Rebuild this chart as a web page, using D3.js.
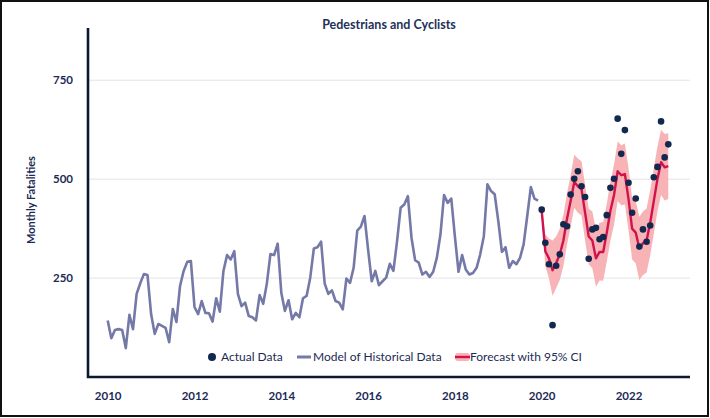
<!DOCTYPE html>
<html>
<head>
<meta charset="utf-8">
<script src="https://cdn.jsdelivr.net/npm/d3@7"></script>
<style>
  body { margin: 0; background: #fff; }
  svg { display: block; }
</style>
</head>
<body>
<svg id="chart" width="710" height="418"></svg>
<script>
// monthly values, Jan 2010 .. Dec 2019
const modelHistorical = [
  143, 98, 119, 121, 119, 73, 157, 121, 210, 237, 260, 258,
  159, 109, 134, 129, 124, 88, 172, 139, 230, 268, 291, 293,
  177, 159, 192, 162, 161, 140, 199, 165, 268, 308, 297, 318,
  210, 179, 188, 154, 151, 143, 207, 185, 236, 311, 308, 337,
  213, 167, 194, 146, 162, 151, 199, 205, 251, 325, 328, 342,
  236, 210, 219, 192, 188, 171, 249, 238, 276, 370, 380, 407,
  322, 242, 268, 232, 242, 251, 286, 268, 343, 428, 436, 457,
  352, 295, 289, 259, 266, 253, 266, 301, 360, 460, 440, 451,
  355, 266, 308, 272, 259, 263, 276, 310, 356, 487, 470, 462,
  394, 316, 328, 276, 293, 285, 301, 335, 407, 480, 451, 446
];

// monthly values, Jan 2020 .. Dec 2022
const actualData = [
  423, 339, 285, 131, 281, 310, 386, 381, 461, 501, 520, 482,
  455, 299, 373, 377, 348, 354, 409, 478, 501, 653, 564, 624,
  491, 415, 451, 330, 373, 342, 383, 505, 531, 646, 555, 588
];
const forecast = [
  420, 318, 300, 270, 288, 310, 345, 400, 445, 493, 482, 475,
  415, 355, 345, 300, 316, 316, 365, 420, 460, 520, 510, 513,
  450, 375, 365, 325, 338, 345, 390, 445, 500, 543, 530, 533
];
const forecastLower = [
  405, 280, 250, 205, 225, 245, 280, 335, 380, 428, 415, 408,
  345, 285, 275, 228, 244, 243, 292, 345, 385, 445, 434, 436,
  372, 297, 287, 245, 258, 264, 308, 362, 418, 460, 446, 450
];
const forecastUpper = [
  435, 360, 350, 345, 355, 375, 410, 465, 510, 562, 552, 545,
  485, 425, 418, 372, 390, 392, 438, 495, 537, 595, 586, 590,
  528, 453, 445, 405, 418, 426, 472, 528, 582, 625, 614, 616
];

const yTicks = [250, 500, 750];
const xTicks = [2010, 2012, 2014, 2016, 2018, 2020, 2022];
const legendItems = ["Actual Data", "Model of Historical Data", "Forecast with 95% CI"];

const navy = "#1c2b55";
const dotColor = "#13284f";
const histColor = "#7479a7";
const redColor = "#d1134d";
const bandColor = "#f8b3b6";
const font = "Lato, 'Open Sans', sans-serif";

const svg = d3.select("#chart");

svg.append("rect")
  .attr("x", 1).attr("y", 1)
  .attr("width", 707).attr("height", 415)
  .attr("fill", "#fff")
  .attr("stroke", "#111")
  .attr("stroke-width", 2);

const plotLeft = 88, plotRight = 690, plotTop = 30, plotBottom = 377;

const x = d3.scaleLinear()
  .domain([2009.546, 2023.417])
  .range([plotLeft, plotRight]);

const y = d3.scaleLinear()
  .domain([0, 877])
  .range([plotBottom, plotTop]);

const histPts = modelHistorical.map((v, i) => ({ t: 2010 + i / 12, v }));
const fcPts = forecast.map((v, i) => ({
  t: 2020 + i / 12, v, lo: forecastLower[i], hi: forecastUpper[i]
}));
const actPts = actualData.map((v, i) => ({ t: 2020 + i / 12, v }));

// grid
svg.append("g")
  .selectAll("line")
  .data(yTicks)
  .join("line")
  .attr("x1", plotLeft).attr("x2", plotRight)
  .attr("y1", d => y(d)).attr("y2", d => y(d))
  .attr("stroke", "#e4e4e8")
  .attr("stroke-width", 1);

// y labels
const yAxis = svg.append("g")
  .attr("transform", `translate(${plotLeft},0)`)
  .call(d3.axisLeft(y).tickValues(yTicks).tickSize(0).tickPadding(15));
yAxis.select(".domain").remove();
yAxis.selectAll("text")
  .attr("font-family", font)
  .attr("font-weight", 700)
  .attr("font-size", 11.5)
  .attr("fill", navy);

// x labels
const xAxis = svg.append("g")
  .attr("transform", `translate(0,${plotBottom})`)
  .call(d3.axisBottom(x).tickValues(xTicks).tickFormat(d3.format("d")).tickSize(0).tickPadding(15));
xAxis.select(".domain").remove();
xAxis.selectAll("text")
  .attr("font-family", font)
  .attr("font-weight", 700)
  .attr("font-size", 11.5)
  .attr("fill", navy);

// confidence band
svg.append("path")
  .datum(fcPts)
  .attr("fill", bandColor)
  .attr("d", d3.area()
    .x(d => x(d.t))
    .y0(d => y(d.lo))
    .y1(d => y(d.hi)));

// historical model
svg.append("path")
  .datum(histPts)
  .attr("fill", "none")
  .attr("stroke", histColor)
  .attr("stroke-width", 2.6)
  .attr("stroke-linejoin", "round")
  .attr("d", d3.line().x(d => x(d.t)).y(d => y(d.v)));

// forecast
svg.append("path")
  .datum(fcPts)
  .attr("fill", "none")
  .attr("stroke", redColor)
  .attr("stroke-width", 2.4)
  .attr("stroke-linejoin", "round")
  .attr("d", d3.line().x(d => x(d.t)).y(d => y(d.v)));

// actual points
svg.append("g")
  .selectAll("circle")
  .data(actPts)
  .join("circle")
  .attr("cx", d => x(d.t))
  .attr("cy", d => y(d.v))
  .attr("r", 3.3)
  .attr("fill", dotColor);

// axis lines
svg.append("path")
  .attr("d", `M${plotLeft},${plotTop - 2}V${plotBottom}H${plotRight}`)
  .attr("fill", "none")
  .attr("stroke", "#0c1830")
  .attr("stroke-width", 2.6);

// title
svg.append("text")
  .attr("x", 389).attr("y", 29)
  .attr("text-anchor", "middle")
  .attr("font-family", font)
  .attr("font-weight", 700)
  .attr("font-size", 12.5)
  .attr("fill", "#23305a")
  .text("Pedestrians and Cyclists");

svg.append("text")
  .attr("transform", "translate(35,200) rotate(-90)")
  .attr("text-anchor", "middle")
  .attr("font-family", font)
  .attr("font-weight", 700)
  .attr("font-size", 11)
  .attr("fill", navy)
  .text("Monthly Fatalities");

// legend
const lg = svg.append("g")
  .attr("font-family", font)
  .attr("font-size", 12)
  .attr("fill", navy);

lg.append("circle").attr("cx", 212).attr("cy", 357).attr("r", 4).attr("fill", dotColor);
lg.append("text").attr("x", 221).attr("y", 361).text(legendItems[0]);

lg.append("line").attr("x1", 297).attr("x2", 311).attr("y1", 357).attr("y2", 357)
  .attr("stroke", histColor).attr("stroke-width", 3);
lg.append("text").attr("x", 313).attr("y", 361).text(legendItems[1]);

lg.append("rect").attr("x", 455).attr("y", 353).attr("width", 15).attr("height", 8)
  .attr("rx", 3).attr("fill", bandColor);
lg.append("line").attr("x1", 455).attr("x2", 470).attr("y1", 357).attr("y2", 357)
  .attr("stroke", redColor).attr("stroke-width", 2.4);
lg.append("text").attr("x", 470).attr("y", 361).text(legendItems[2]);
</script>
</body>
</html>
